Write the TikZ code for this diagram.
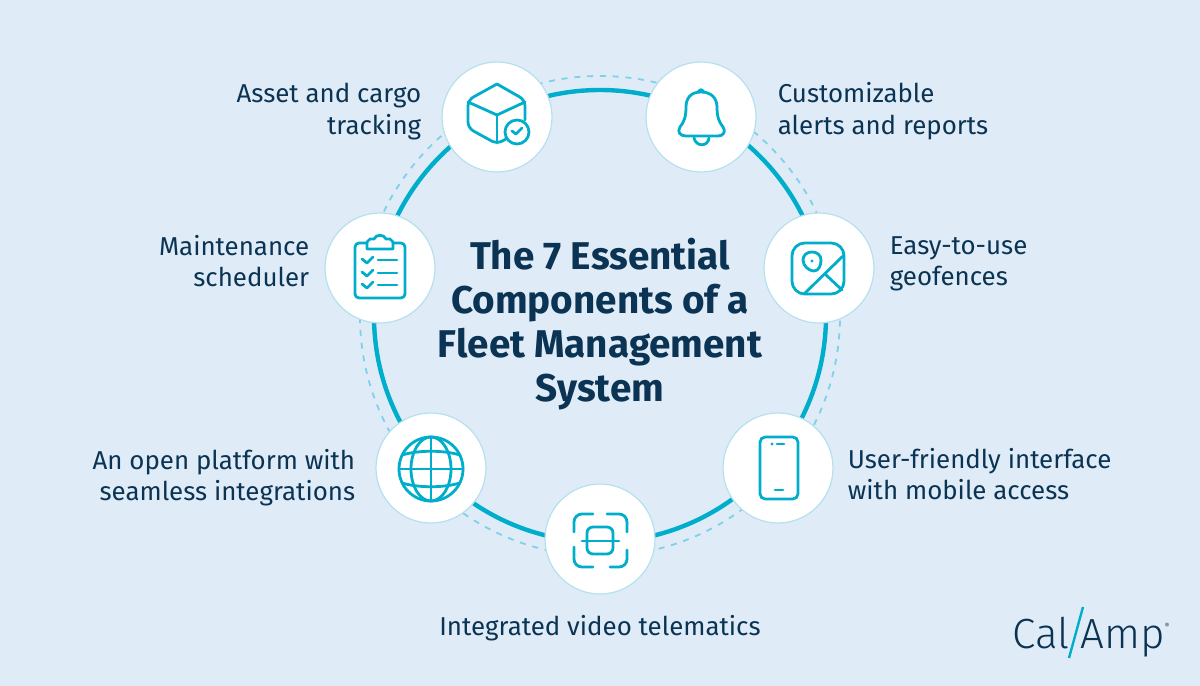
\documentclass[tikz,border=0pt]{standalone}
\usepackage{xcolor}
\usepackage{fontspec}
\setmainfont{Fira Sans}
\newfontfamily\logofont{Fira Sans Light}
\usetikzlibrary{positioning}

\definecolor{pagebg}{HTML}{DFECF7}
\definecolor{ringblue}{HTML}{00AECB}
\definecolor{dashblue}{HTML}{7FD0E8}
\definecolor{edgeblue}{HTML}{B5E0EF}
\definecolor{inkblue}{HTML}{0B3353}

\tikzset{
    iconcircle/.style={
        circle,
        draw=edgeblue,
        line width=0.3mm,
        fill=white,
        minimum size=27.5mm,
        inner sep=0
    },
    iconline/.style={
        draw=ringblue,
        line width=0.7mm,
        line cap=round,
        line join=round
    },
    sidelabel/.style={
        text=inkblue,
        font=\fontsize{18.4}{22.4}\selectfont,
        inner sep=0
    }
}

\begin{document}
\begin{tikzpicture}[x=0.25mm,y=-0.25mm]
                \useasboundingbox (0,0) rectangle (1200,686);
                \fill[pagebg] (0,0) rectangle (1200,686);

                \coordinate (hub) at (600,316);

                \draw[
                    dashblue,
                    line width=0.45mm,
                    dash pattern=on 1.5mm off 1.7mm
                    ] (hub) circle [radius=60mm];

                \draw[
                    ringblue,
                    line width=1.1mm
                    ] (hub) circle [radius=56.5mm];

                \node[iconcircle] (cargo) at (497,117) {};
                \node[iconcircle] (alerts) at (701,117) {};
                \node[iconcircle] (geofence) at (819,268) {};
                \node[iconcircle] (mobile) at (778,468) {};
                \node[iconcircle] (video) at (600,539) {};
                \node[iconcircle] (platform) at (431,468) {};
                \node[iconcircle] (scheduler) at (380,268) {};

                \node[sidelabel, align=right, left=5mm of cargo, yshift=1.4mm] (cargotext) {Asset and cargo\\tracking};
                \node[sidelabel, align=left, right=5.25mm of alerts, yshift=1.4mm] (alertstext) {Customizable\\alerts and reports};
                \node[sidelabel, align=left, right=3.75mm of geofence, yshift=1mm] (geofencetext) {Easy-to-use\\geofences};
                \node[sidelabel, align=left, right=3.5mm of mobile, yshift=-1.5mm] (mobiletext) {User-friendly interface\\with mobile access};
                \node[sidelabel, below=5.2mm of video] (videotext) {Integrated video telematics};
                \node[sidelabel, align=right, left=5mm of platform, yshift=-2.4mm] (platformtext) {An open platform with\\seamless integrations};
                \node[sidelabel, align=right, left=3.75mm of scheduler, yshift=1.7mm] (schedulertext) {Maintenance\\scheduler};

                \node[
                    text=inkblue,
                    align=center,
                    font=\fontsize{27.5}{31.3}\selectfont\bfseries
                    ] (title) at (600,324) {The 7 Essential\\Components of a\\Fleet Management\\System};

                \begin{scope}[shift={(cargo)}]
                    \draw[iconline, rounded corners=1.5mm] (0,-33) -- (28,-17) -- (28,3);
                    \draw[iconline, rounded corners=1.5mm] (9,22) -- (0,27) -- (-29,11) -- (-29,-17) -- (0,-33);
                    \draw[iconline] (-29,-15) -- (0,-2) -- (28,-15);
                    \draw[iconline] (0,-2) -- (0,26);
                    \draw[iconline] (20,15) circle [radius=3mm];
                    \draw[iconline] (15,14) -- (19,17) -- (25,11);
                \end{scope}

                \begin{scope}[shift={(alerts)}]
                    \draw[iconline] (-3,-25) .. controls (0,-28) and (0,-28) .. (3,-25);
                    \draw[iconline] (0,-25) .. controls (-10,-25) and (-15,-19) .. (-15,-10)
                        .. controls (-15,0) and (-17,5) .. (-21,10)
                        .. controls (-24,15) and (-21,19) .. (-15,19)
                        -- (17,19)
                        .. controls (23,19) and (25,14) .. (22,10)
                        .. controls (18,5) and (16,0) .. (16,-10)
                        .. controls (16,-19) and (10,-25) .. (0,-25);
                    \draw[iconline] (-7,21) .. controls (-5,30) and (7,30) .. (8,21);
                \end{scope}

                \begin{scope}[shift={(geofence)}]
                    \draw[iconline, rounded corners=3.2mm] (-27,-25) rectangle (25,26);
                    \draw[iconline] (24,-12) -- (-14,25);
                    \draw[iconline] (6,6) -- (23,22);
                    \draw[iconline] (-5,3) .. controls (-10,3) and (-16,-2) .. (-16,-8)
                        .. controls (-16,-13) and (-12,-16) .. (-7,-16)
                        .. controls (-2,-16) and (2,-13) .. (2,-8)
                        .. controls (2,-3) and (0,3) .. (-5,3);
                    \fill[ringblue] (-7,-7) circle [radius=0.4mm];
                \end{scope}

                \begin{scope}[shift={(mobile)}]
                    \draw[iconline, rounded corners=1.3mm] (-18,-31) rectangle (20,31);
                    \fill[ringblue] (-6,-24) circle [radius=0.4mm];
                    \draw[iconline] (-1,-24) -- (6,-24);
                    \draw[iconline] (-3,22) -- (5,22);
                \end{scope}

                \begin{scope}[shift={(video)}]
                    \draw[iconline, rounded corners=2mm] (-26,-7) -- (-26,-25) -- (-7,-25);
                    \draw[iconline, rounded corners=2mm] (7,-25) -- (27,-25) -- (27,-7);
                    \draw[iconline, rounded corners=2mm] (-26,8) -- (-26,28) -- (-7,28);
                    \draw[iconline, rounded corners=2mm] (10,28) -- (27,28) -- (27,11);
                    \draw[iconline, rounded corners=1.5mm] (-13,-12) rectangle (13,15);
                    \draw[iconline] (-18,2) -- (19,2);
                \end{scope}

                \begin{scope}[shift={(platform)}]
                    \draw[iconline] (0,1) circle [radius=8mm];
                    \draw[iconline] (0,1) ellipse [x radius=5mm, y radius=8mm];
                    \draw[iconline] (0,-31) -- (0,33);
                    \draw[iconline] (-32,1) -- (32,1);
                    \draw[iconline] (-29,-13) .. controls (-12,-18) and (12,-18) .. (29,-13);
                    \draw[iconline] (-29,15) .. controls (-12,20) and (12,20) .. (29,15);
                \end{scope}

                \begin{scope}[shift={(scheduler)}]
                    \draw[iconline, rounded corners=1mm] (-13,-25) -- (-25,-25) -- (-25,30) -- (25,30) -- (25,-25) -- (13,-25);
                    \draw[iconline] (-13,-19) -- (-13,-26) -- (-10,-29) -- (-6,-29)
                        .. controls (-4,-34) and (4,-34) .. (6,-29)
                        -- (10,-29) -- (13,-26) -- (13,-19) -- cycle;
                    \foreach \rowy in {-8,5,17} {
                        \draw[iconline] (-18,\rowy-1) -- (-13,\rowy+3) -- (-7,\rowy-3);
                        \draw[iconline] (-2,\rowy) -- (17,\rowy);
                    }
                \end{scope}

                \node[
                    text=inkblue,
                    anchor=base west,
                    inner sep=0,
                    font=\fontsize{30}{30}\logofont
                    ] (calword) at (1012,648) {Cal};

                \node[
                    text=inkblue,
                    anchor=base west,
                    inner sep=0,
                    font=\fontsize{30}{30}\logofont
                    ] (ampword) at (1080,648) {Amp};

                \node[
                    text=inkblue,
                    anchor=center,
                    inner sep=0,
                    font=\fontsize{5}{5}\selectfont
                    ] (regmark) at (1167,626) {®};

                \coordinate (slashtop) at (1083,607);
                \coordinate (slashfoot) at (1069,658);
                \draw[
                    ringblue,
                    line width=0.6mm
                    ] (slashtop) -- (slashfoot);

             \end{tikzpicture}
\end{document}
